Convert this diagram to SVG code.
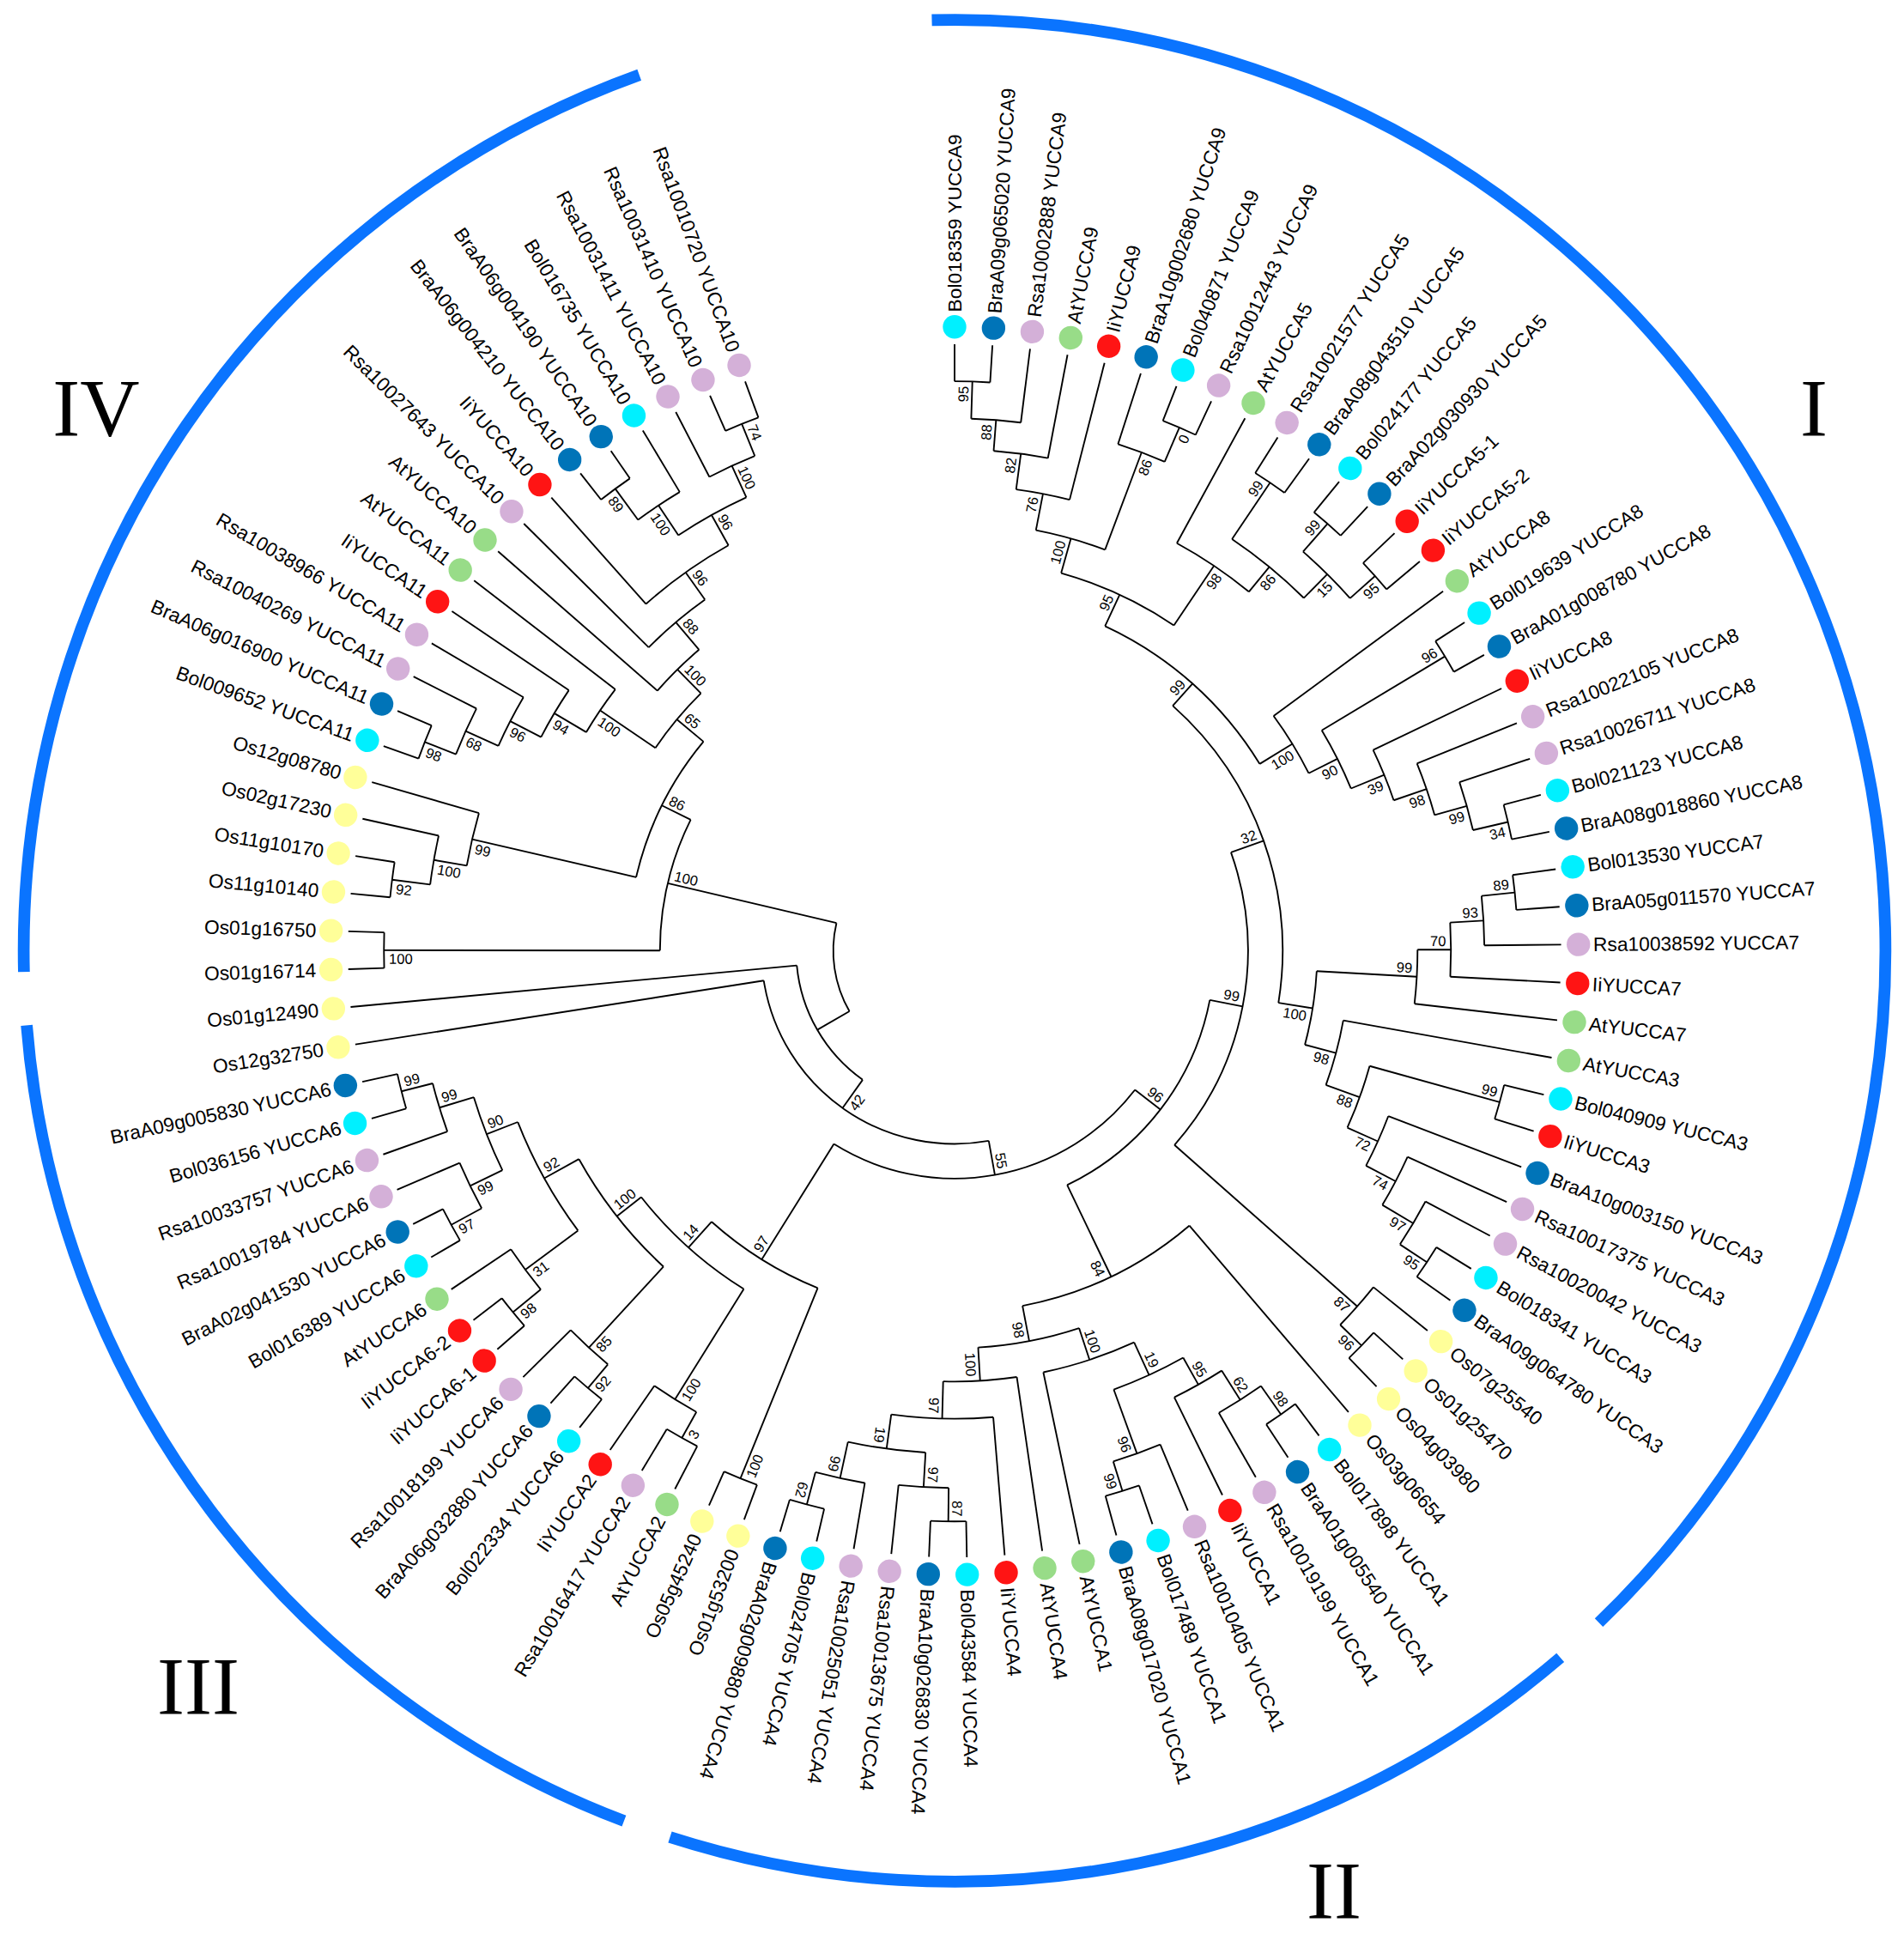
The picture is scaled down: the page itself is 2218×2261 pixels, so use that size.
<svg xmlns="http://www.w3.org/2000/svg" width="2218" height="2261" viewBox="0 0 2218 2261">
<style>
.br{fill:none;stroke:#000;stroke-width:1.3}
.ca{fill:none;stroke:#0A74FF;stroke-width:9.5}
.lf text{font-family:"Liberation Sans",Arial,sans-serif;font-size:15.8px;dominant-baseline:central;fill:#000}
.bs{font-family:"Liberation Sans",Arial,sans-serif;font-size:11.5px;fill:#000}
.e{text-anchor:end}
.c{fill:#00F0FF}.b{fill:#0074B8}.l{fill:#D4B0D8}.g{fill:#98DC88}.r{fill:#FF1414}.y{fill:#FFFF99}
.num{font-family:"Liberation Serif","Times New Roman",serif;font-size:96px;text-anchor:middle;fill:#000}
</style>
<rect width="2218" height="2261" fill="#fff"/>
<g transform="translate(1112 1107.5) scale(1.442)">
<g id="clade-arcs" class="ca">
<circle r="752" pathLength="360" stroke-dasharray="137.6 360" transform="rotate(-91.4)"/>
<circle r="752" pathLength="360" stroke-dasharray="58.4 360" transform="rotate(49.4)"/>
<circle r="752" pathLength="360" stroke-dasharray="64.6 360" transform="rotate(110.8)"/>
<circle r="752" pathLength="360" stroke-dasharray="71.5 360" transform="rotate(178.7)"/>
</g>
<g id="connectors" class="br">
<circle r="460" pathLength="360" stroke-dasharray="3.58 360" transform="rotate(-90)"/><path transform="rotate(0)" d="M0-460V-490"/><path transform="rotate(3.58)" d="M0-460V-490"/>
<circle r="430" pathLength="360" stroke-dasharray="5.36 360" transform="rotate(-88.21)"/><path transform="rotate(1.79)" d="M0-430V-460"/><path transform="rotate(7.15)" d="M0-430V-490"/>
<circle r="405" pathLength="360" stroke-dasharray="6.26 360" transform="rotate(-85.53)"/><path transform="rotate(4.47)" d="M0-405V-430"/><path transform="rotate(10.73)" d="M0-405V-490"/>
<circle r="376" pathLength="360" stroke-dasharray="6.71 360" transform="rotate(-82.4)"/><path transform="rotate(7.6)" d="M0-376V-405"/><path transform="rotate(14.31)" d="M0-376V-490"/>
<circle r="460" pathLength="360" stroke-dasharray="3.58 360" transform="rotate(-68.54)"/><path transform="rotate(21.46)" d="M0-460V-490"/><path transform="rotate(25.04)" d="M0-460V-490"/>
<circle r="430" pathLength="360" stroke-dasharray="5.37 360" transform="rotate(-72.12)"/><path transform="rotate(17.88)" d="M0-430V-490"/><path transform="rotate(23.25)" d="M0-430V-460"/>
<circle r="346" pathLength="360" stroke-dasharray="9.62 360" transform="rotate(-79.05)"/><path transform="rotate(10.95)" d="M0-346V-376"/><path transform="rotate(20.57)" d="M0-346V-430"/>
<circle r="456" pathLength="360" stroke-dasharray="3.58 360" transform="rotate(-57.81)"/><path transform="rotate(32.19)" d="M0-456V-490"/><path transform="rotate(35.77)" d="M0-456V-490"/>
<circle r="458" pathLength="360" stroke-dasharray="3.57 360" transform="rotate(-50.65)"/><path transform="rotate(39.35)" d="M0-458V-490"/><path transform="rotate(42.92)" d="M0-458V-490"/>
<circle r="455" pathLength="360" stroke-dasharray="3.58 360" transform="rotate(-43.5)"/><path transform="rotate(46.5)" d="M0-455V-490"/><path transform="rotate(50.08)" d="M0-455V-490"/>
<circle r="428" pathLength="360" stroke-dasharray="7.16 360" transform="rotate(-48.87)"/><path transform="rotate(41.13)" d="M0-428V-458"/><path transform="rotate(48.29)" d="M0-428V-455"/>
<circle r="401" pathLength="360" stroke-dasharray="10.73 360" transform="rotate(-56.02)"/><path transform="rotate(33.98)" d="M0-401V-456"/><path transform="rotate(44.71)" d="M0-401V-428"/>
<circle r="375" pathLength="360" stroke-dasharray="10.74 360" transform="rotate(-61.39)"/><path transform="rotate(28.61)" d="M0-375V-490"/><path transform="rotate(39.35)" d="M0-375V-401"/>
<circle r="317" pathLength="360" stroke-dasharray="18.22 360" transform="rotate(-74.24)"/><path transform="rotate(15.76)" d="M0-317V-346"/><path transform="rotate(33.98)" d="M0-317V-375"/>
<circle r="462" pathLength="360" stroke-dasharray="3.58 360" transform="rotate(-32.77)"/><path transform="rotate(57.23)" d="M0-462V-490"/><path transform="rotate(60.81)" d="M0-462V-490"/>
<circle r="459" pathLength="360" stroke-dasharray="3.58 360" transform="rotate(-14.89)"/><path transform="rotate(75.11)" d="M0-459V-490"/><path transform="rotate(78.69)" d="M0-459V-490"/>
<circle r="430" pathLength="360" stroke-dasharray="5.36 360" transform="rotate(-18.46)"/><path transform="rotate(71.54)" d="M0-430V-490"/><path transform="rotate(76.9)" d="M0-430V-459"/>
<circle r="403" pathLength="360" stroke-dasharray="6.26 360" transform="rotate(-22.04)"/><path transform="rotate(67.96)" d="M0-403V-490"/><path transform="rotate(74.22)" d="M0-403V-430"/>
<circle r="375" pathLength="360" stroke-dasharray="6.71 360" transform="rotate(-25.62)"/><path transform="rotate(64.38)" d="M0-375V-490"/><path transform="rotate(71.09)" d="M0-375V-403"/>
<circle r="346" pathLength="360" stroke-dasharray="8.72 360" transform="rotate(-30.98)"/><path transform="rotate(59.02)" d="M0-346V-462"/><path transform="rotate(67.74)" d="M0-346V-375"/>
<circle r="320" pathLength="360" stroke-dasharray="9.73 360" transform="rotate(-36.35)"/><path transform="rotate(53.65)" d="M0-320V-490"/><path transform="rotate(63.38)" d="M0-320V-346"/>
<circle r="289" pathLength="360" stroke-dasharray="33.65 360" transform="rotate(-65.13)"/><path transform="rotate(24.87)" d="M0-289V-317"/><path transform="rotate(58.52)" d="M0-289V-320"/>
<circle r="455" pathLength="360" stroke-dasharray="3.57 360" transform="rotate(-7.73)"/><path transform="rotate(82.27)" d="M0-455V-490"/><path transform="rotate(85.84)" d="M0-455V-490"/>
<circle r="428" pathLength="360" stroke-dasharray="5.36 360" transform="rotate(-5.94)"/><path transform="rotate(84.06)" d="M0-428V-455"/><path transform="rotate(89.42)" d="M0-428V-490"/>
<circle r="401" pathLength="360" stroke-dasharray="6.26 360" transform="rotate(-3.26)"/><path transform="rotate(86.74)" d="M0-401V-428"/><path transform="rotate(93)" d="M0-401V-490"/>
<circle r="374" pathLength="360" stroke-dasharray="6.7 360" transform="rotate(-0.13)"/><path transform="rotate(89.87)" d="M0-374V-401"/><path transform="rotate(96.57)" d="M0-374V-490"/>
<circle r="457" pathLength="360" stroke-dasharray="3.57 360" transform="rotate(13.73)"/><path transform="rotate(103.73)" d="M0-457V-490"/><path transform="rotate(107.3)" d="M0-457V-490"/>
<circle r="457" pathLength="360" stroke-dasharray="3.58 360" transform="rotate(31.61)"/><path transform="rotate(121.61)" d="M0-457V-490"/><path transform="rotate(125.19)" d="M0-457V-490"/>
<circle r="431" pathLength="360" stroke-dasharray="5.37 360" transform="rotate(28.03)"/><path transform="rotate(118.03)" d="M0-431V-490"/><path transform="rotate(123.4)" d="M0-431V-457"/>
<circle r="402" pathLength="360" stroke-dasharray="6.26 360" transform="rotate(24.46)"/><path transform="rotate(114.46)" d="M0-402V-490"/><path transform="rotate(120.72)" d="M0-402V-431"/>
<circle r="375" pathLength="360" stroke-dasharray="6.71 360" transform="rotate(20.88)"/><path transform="rotate(110.88)" d="M0-375V-490"/><path transform="rotate(117.59)" d="M0-375V-402"/>
<circle r="348" pathLength="360" stroke-dasharray="8.72 360" transform="rotate(15.52)"/><path transform="rotate(105.52)" d="M0-348V-457"/><path transform="rotate(114.24)" d="M0-348V-375"/>
<circle r="319" pathLength="360" stroke-dasharray="9.73 360" transform="rotate(10.15)"/><path transform="rotate(100.15)" d="M0-319V-490"/><path transform="rotate(109.88)" d="M0-319V-348"/>
<circle r="293" pathLength="360" stroke-dasharray="11.8 360" transform="rotate(3.22)"/><path transform="rotate(93.22)" d="M0-293V-374"/><path transform="rotate(105.02)" d="M0-293V-319"/>
<circle r="265" pathLength="360" stroke-dasharray="57.43 360" transform="rotate(-48.31)"/><path transform="rotate(41.69)" d="M0-265V-289"/><path transform="rotate(99.12)" d="M0-265V-293"/>
<circle r="458" pathLength="360" stroke-dasharray="3.58 360" transform="rotate(42.34)"/><path transform="rotate(132.34)" d="M0-458V-490"/><path transform="rotate(135.92)" d="M0-458V-490"/>
<circle r="434" pathLength="360" stroke-dasharray="5.36 360" transform="rotate(38.77)"/><path transform="rotate(128.77)" d="M0-434V-490"/><path transform="rotate(134.13)" d="M0-434V-458"/>
<circle r="237" pathLength="360" stroke-dasharray="61.04 360" transform="rotate(-19.59)"/><path transform="rotate(70.41)" d="M0-237V-265"/><path transform="rotate(131.45)" d="M0-237V-434"/>
<circle r="458" pathLength="360" stroke-dasharray="3.58 360" transform="rotate(53.07)"/><path transform="rotate(143.07)" d="M0-458V-490"/><path transform="rotate(146.65)" d="M0-458V-490"/>
<circle r="430" pathLength="360" stroke-dasharray="5.37 360" transform="rotate(54.86)"/><path transform="rotate(144.86)" d="M0-430V-458"/><path transform="rotate(150.23)" d="M0-430V-490"/>
<circle r="402" pathLength="360" stroke-dasharray="6.26 360" transform="rotate(57.54)"/><path transform="rotate(147.54)" d="M0-402V-430"/><path transform="rotate(153.8)" d="M0-402V-490"/>
<circle r="457" pathLength="360" stroke-dasharray="3.57 360" transform="rotate(70.96)"/><path transform="rotate(160.96)" d="M0-457V-490"/><path transform="rotate(164.53)" d="M0-457V-490"/>
<circle r="432" pathLength="360" stroke-dasharray="5.36 360" transform="rotate(67.38)"/><path transform="rotate(157.38)" d="M0-432V-490"/><path transform="rotate(162.74)" d="M0-432V-457"/>
<circle r="377" pathLength="360" stroke-dasharray="9.39 360" transform="rotate(60.67)"/><path transform="rotate(150.67)" d="M0-377V-402"/><path transform="rotate(160.06)" d="M0-377V-432"/>
<circle r="348" pathLength="360" stroke-dasharray="12.74 360" transform="rotate(65.37)"/><path transform="rotate(155.37)" d="M0-348V-377"/><path transform="rotate(168.11)" d="M0-348V-490"/>
<circle r="461" pathLength="360" stroke-dasharray="3.58 360" transform="rotate(88.84)"/><path transform="rotate(178.84)" d="M0-461V-490"/><path transform="rotate(182.42)" d="M0-461V-490"/>
<circle r="434" pathLength="360" stroke-dasharray="5.36 360" transform="rotate(90.63)"/><path transform="rotate(180.63)" d="M0-434V-461"/><path transform="rotate(185.99)" d="M0-434V-490"/>
<circle r="463" pathLength="360" stroke-dasharray="3.57 360" transform="rotate(103.15)"/><path transform="rotate(193.15)" d="M0-463V-490"/><path transform="rotate(196.72)" d="M0-463V-490"/>
<circle r="436" pathLength="360" stroke-dasharray="5.37 360" transform="rotate(99.57)"/><path transform="rotate(189.57)" d="M0-436V-490"/><path transform="rotate(194.94)" d="M0-436V-463"/>
<circle r="406" pathLength="360" stroke-dasharray="8.94 360" transform="rotate(93.31)"/><path transform="rotate(183.31)" d="M0-406V-434"/><path transform="rotate(192.25)" d="M0-406V-436"/>
<circle r="378" pathLength="360" stroke-dasharray="12.52 360" transform="rotate(85.26)"/><path transform="rotate(175.26)" d="M0-378V-490"/><path transform="rotate(187.78)" d="M0-378V-406"/>
<circle r="348" pathLength="360" stroke-dasharray="9.83 360" transform="rotate(81.69)"/><path transform="rotate(171.69)" d="M0-348V-490"/><path transform="rotate(181.52)" d="M0-348V-378"/>
<circle r="321" pathLength="360" stroke-dasharray="14.86 360" transform="rotate(71.74)"/><path transform="rotate(161.74)" d="M0-321V-348"/><path transform="rotate(176.6)" d="M0-321V-348"/>
<circle r="292" pathLength="360" stroke-dasharray="29.67 360" transform="rotate(49.5)"/><path transform="rotate(139.5)" d="M0-292V-490"/><path transform="rotate(169.17)" d="M0-292V-321"/>
<circle r="210" pathLength="360" stroke-dasharray="53.4 360" transform="rotate(10.93)"/><path transform="rotate(100.93)" d="M0-210V-237"/><path transform="rotate(154.33)" d="M0-210V-292"/>
<circle r="460" pathLength="360" stroke-dasharray="3.58 360" transform="rotate(110.3)"/><path transform="rotate(200.3)" d="M0-460V-490"/><path transform="rotate(203.88)" d="M0-460V-490"/>
<circle r="451" pathLength="360" stroke-dasharray="3.58 360" transform="rotate(117.45)"/><path transform="rotate(207.45)" d="M0-451V-490"/><path transform="rotate(211.03)" d="M0-451V-490"/>
<circle r="427" pathLength="360" stroke-dasharray="5.37 360" transform="rotate(119.24)"/><path transform="rotate(209.24)" d="M0-427V-451"/><path transform="rotate(214.61)" d="M0-427V-490"/>
<circle r="461" pathLength="360" stroke-dasharray="3.57 360" transform="rotate(128.19)"/><path transform="rotate(218.19)" d="M0-461V-490"/><path transform="rotate(221.76)" d="M0-461V-490"/>
<circle r="436" pathLength="360" stroke-dasharray="5.37 360" transform="rotate(129.97)"/><path transform="rotate(219.97)" d="M0-436V-461"/><path transform="rotate(225.34)" d="M0-436V-490"/>
<circle r="461" pathLength="360" stroke-dasharray="3.57 360" transform="rotate(138.92)"/><path transform="rotate(228.92)" d="M0-461V-490"/><path transform="rotate(232.49)" d="M0-461V-490"/>
<circle r="432" pathLength="360" stroke-dasharray="5.37 360" transform="rotate(140.7)"/><path transform="rotate(230.7)" d="M0-432V-461"/><path transform="rotate(236.07)" d="M0-432V-490"/>
<circle r="463" pathLength="360" stroke-dasharray="3.57 360" transform="rotate(149.65)"/><path transform="rotate(239.65)" d="M0-463V-490"/><path transform="rotate(243.22)" d="M0-463V-490"/>
<circle r="435" pathLength="360" stroke-dasharray="5.37 360" transform="rotate(151.43)"/><path transform="rotate(241.43)" d="M0-435V-463"/><path transform="rotate(246.8)" d="M0-435V-490"/>
<circle r="461" pathLength="360" stroke-dasharray="3.58 360" transform="rotate(163.95)"/><path transform="rotate(253.95)" d="M0-461V-490"/><path transform="rotate(257.53)" d="M0-461V-490"/>
<circle r="435" pathLength="360" stroke-dasharray="5.36 360" transform="rotate(160.38)"/><path transform="rotate(250.38)" d="M0-435V-490"/><path transform="rotate(255.74)" d="M0-435V-461"/>
<circle r="406" pathLength="360" stroke-dasharray="8.94 360" transform="rotate(154.12)"/><path transform="rotate(244.12)" d="M0-406V-435"/><path transform="rotate(253.06)" d="M0-406V-435"/>
<circle r="379" pathLength="360" stroke-dasharray="15.2 360" transform="rotate(143.39)"/><path transform="rotate(233.39)" d="M0-379V-432"/><path transform="rotate(248.59)" d="M0-379V-406"/>
<circle r="347" pathLength="360" stroke-dasharray="18.33 360" transform="rotate(132.66)"/><path transform="rotate(222.66)" d="M0-347V-436"/><path transform="rotate(240.99)" d="M0-347V-379"/>
<circle r="322" pathLength="360" stroke-dasharray="19.9 360" transform="rotate(121.93)"/><path transform="rotate(211.93)" d="M0-322V-427"/><path transform="rotate(231.83)" d="M0-322V-347"/>
<circle r="294" pathLength="360" stroke-dasharray="19.79 360" transform="rotate(112.09)"/><path transform="rotate(202.09)" d="M0-294V-460"/><path transform="rotate(221.88)" d="M0-294V-322"/>
<circle r="184" pathLength="360" stroke-dasharray="84.36 360" transform="rotate(37.63)"/><path transform="rotate(127.63)" d="M0-184V-210"/><path transform="rotate(211.99)" d="M0-184V-294"/>
<circle r="156" pathLength="360" stroke-dasharray="91.3 360" transform="rotate(79.81)"/><path transform="rotate(169.81)" d="M0-156V-184"/><path transform="rotate(261.11)" d="M0-156V-490"/>
<circle r="128" pathLength="360" stroke-dasharray="49.22 360" transform="rotate(125.46)"/><path transform="rotate(215.46)" d="M0-128V-156"/><path transform="rotate(264.68)" d="M0-128V-490"/>
<circle r="461" pathLength="360" stroke-dasharray="3.58 360" transform="rotate(178.26)"/><path transform="rotate(268.26)" d="M0-461V-490"/><path transform="rotate(271.84)" d="M0-461V-490"/>
<circle r="458" pathLength="360" stroke-dasharray="3.58 360" transform="rotate(185.41)"/><path transform="rotate(275.41)" d="M0-458V-490"/><path transform="rotate(278.99)" d="M0-458V-490"/>
<circle r="427" pathLength="360" stroke-dasharray="5.37 360" transform="rotate(187.2)"/><path transform="rotate(277.2)" d="M0-427V-458"/><path transform="rotate(282.57)" d="M0-427V-490"/>
<circle r="400" pathLength="360" stroke-dasharray="6.25 360" transform="rotate(189.89)"/><path transform="rotate(279.89)" d="M0-400V-427"/><path transform="rotate(286.14)" d="M0-400V-490"/>
<circle r="460" pathLength="360" stroke-dasharray="3.58 360" transform="rotate(199.72)"/><path transform="rotate(289.72)" d="M0-460V-490"/><path transform="rotate(293.3)" d="M0-460V-490"/>
<circle r="433" pathLength="360" stroke-dasharray="5.36 360" transform="rotate(201.51)"/><path transform="rotate(291.51)" d="M0-433V-460"/><path transform="rotate(296.87)" d="M0-433V-490"/>
<circle r="404" pathLength="360" stroke-dasharray="6.26 360" transform="rotate(204.19)"/><path transform="rotate(294.19)" d="M0-404V-433"/><path transform="rotate(300.45)" d="M0-404V-490"/>
<circle r="376" pathLength="360" stroke-dasharray="6.71 360" transform="rotate(207.32)"/><path transform="rotate(297.32)" d="M0-376V-404"/><path transform="rotate(304.03)" d="M0-376V-490"/>
<circle r="346" pathLength="360" stroke-dasharray="6.93 360" transform="rotate(210.68)"/><path transform="rotate(300.68)" d="M0-346V-376"/><path transform="rotate(307.61)" d="M0-346V-490"/>
<circle r="463" pathLength="360" stroke-dasharray="3.58 360" transform="rotate(231.91)"/><path transform="rotate(321.91)" d="M0-463V-490"/><path transform="rotate(325.49)" d="M0-463V-490"/>
<circle r="432" pathLength="360" stroke-dasharray="5.37 360" transform="rotate(233.7)"/><path transform="rotate(323.7)" d="M0-432V-463"/><path transform="rotate(329.07)" d="M0-432V-490"/>
<circle r="459" pathLength="360" stroke-dasharray="3.58 360" transform="rotate(246.22)"/><path transform="rotate(336.22)" d="M0-459V-490"/><path transform="rotate(339.8)" d="M0-459V-490"/>
<circle r="431" pathLength="360" stroke-dasharray="5.37 360" transform="rotate(242.64)"/><path transform="rotate(332.64)" d="M0-431V-490"/><path transform="rotate(338.01)" d="M0-431V-459"/>
<circle r="403" pathLength="360" stroke-dasharray="8.95 360" transform="rotate(236.38)"/><path transform="rotate(326.38)" d="M0-403V-432"/><path transform="rotate(335.33)" d="M0-403V-431"/>
<circle r="375" pathLength="360" stroke-dasharray="12.51 360" transform="rotate(228.34)"/><path transform="rotate(318.34)" d="M0-375V-490"/><path transform="rotate(330.85)" d="M0-375V-403"/>
<circle r="348" pathLength="360" stroke-dasharray="9.83 360" transform="rotate(224.76)"/><path transform="rotate(314.76)" d="M0-348V-490"/><path transform="rotate(324.59)" d="M0-348V-375"/>
<circle r="319" pathLength="360" stroke-dasharray="8.5 360" transform="rotate(221.18)"/><path transform="rotate(311.18)" d="M0-319V-490"/><path transform="rotate(319.68)" d="M0-319V-348"/>
<circle r="292" pathLength="360" stroke-dasharray="11.29 360" transform="rotate(214.14)"/><path transform="rotate(304.14)" d="M0-292V-346"/><path transform="rotate(315.43)" d="M0-292V-319"/>
<circle r="264" pathLength="360" stroke-dasharray="26.78 360" transform="rotate(193.01)"/><path transform="rotate(283.01)" d="M0-264V-400"/><path transform="rotate(309.79)" d="M0-264V-292"/>
<circle r="238" pathLength="360" stroke-dasharray="26.35 360" transform="rotate(180.05)"/><path transform="rotate(270.05)" d="M0-238V-461"/><path transform="rotate(296.4)" d="M0-238V-264"/>
<circle r="98" pathLength="360" stroke-dasharray="43.16 360" transform="rotate(150.07)"/><path transform="rotate(240.07)" d="M0-98V-128"/><path transform="rotate(283.23)" d="M0-98V-238"/>
</g>
<g id="bootstrap" class="bs">
<text class="e" transform="rotate(-88.21)" x="456" y="-3">95</text>
<text class="e" transform="rotate(-85.53)" x="426" y="-3">88</text>
<text class="e" transform="rotate(-82.4)" x="401" y="-3">82</text>
<text class="e" transform="rotate(-79.05)" x="372" y="-3">76</text>
<text class="e" transform="rotate(-66.75)" x="456" y="11">0</text>
<text class="e" transform="rotate(-69.43)" x="426" y="11">86</text>
<text class="e" transform="rotate(-74.24)" x="342" y="-3">100</text>
<text class="e" transform="rotate(-56.02)" x="452" y="-3">99</text>
<text class="e" transform="rotate(-48.87)" x="454" y="-3">99</text>
<text class="e" transform="rotate(-41.71)" x="451" y="11">95</text>
<text class="e" transform="rotate(-45.29)" x="424" y="11">15</text>
<text class="e" transform="rotate(-50.65)" x="397" y="11">86</text>
<text class="e" transform="rotate(-56.02)" x="371" y="11">98</text>
<text class="e" transform="rotate(-65.13)" x="313" y="-3">95</text>
<text class="e" transform="rotate(-30.98)" x="458" y="-3">96</text>
<text class="e" transform="rotate(-13.1)" x="455" y="11">34</text>
<text class="e" transform="rotate(-15.78)" x="426" y="11">99</text>
<text class="e" transform="rotate(-18.91)" x="399" y="11">98</text>
<text class="e" transform="rotate(-22.26)" x="371" y="11">39</text>
<text class="e" transform="rotate(-26.62)" x="342" y="11">90</text>
<text class="e" transform="rotate(-31.48)" x="316" y="11">100</text>
<text class="e" transform="rotate(-48.31)" x="285" y="-3">99</text>
<text class="e" transform="rotate(-5.94)" x="451" y="-3">89</text>
<text class="e" transform="rotate(-3.26)" x="424" y="-3">93</text>
<text class="e" transform="rotate(-0.13)" x="397" y="-3">70</text>
<text class="e" transform="rotate(3.22)" x="370" y="-3">99</text>
<text class="e" transform="rotate(15.52)" x="453" y="-3">99</text>
<text class="e" transform="rotate(33.4)" x="453" y="11">95</text>
<text class="e" transform="rotate(30.72)" x="427" y="11">97</text>
<text class="e" transform="rotate(27.59)" x="398" y="11">74</text>
<text class="e" transform="rotate(24.24)" x="371" y="11">72</text>
<text class="e" transform="rotate(19.88)" x="344" y="11">88</text>
<text class="e" transform="rotate(15.02)" x="315" y="11">98</text>
<text class="e" transform="rotate(9.12)" x="289" y="11">100</text>
<text class="e" transform="rotate(-19.59)" x="261" y="-3">32</text>
<text class="e" transform="rotate(44.13)" x="454" y="11">96</text>
<text class="e" transform="rotate(41.45)" x="430" y="11">87</text>
<text class="e" transform="rotate(10.93)" x="233" y="-3">99</text>
<text class="e" transform="rotate(54.86)" x="454" y="-3">98</text>
<text class="e" transform="rotate(57.54)" x="426" y="-3">62</text>
<text class="e" transform="rotate(60.67)" x="398" y="-3">95</text>
<text class="e" transform="rotate(72.74)" x="453" y="11">99</text>
<text class="e" transform="rotate(70.06)" x="428" y="11">96</text>
<text class="e" transform="rotate(65.37)" x="373" y="-3">19</text>
<text class="e" transform="rotate(71.74)" x="344" y="-3">100</text>
<text class="e" transform="rotate(90.63)" x="457" y="-3">87</text>
<text class="e" transform="rotate(93.31)" x="430" y="-3">97</text>
<text class="e" transform="rotate(104.94)" x="459" y="11">62</text>
<text class="e" transform="rotate(102.25)" x="432" y="11">99</text>
<text class="e" transform="rotate(97.78)" x="402" y="11">19</text>
<text class="e" transform="rotate(91.52)" x="374" y="11">97</text>
<text class="e" transform="rotate(86.6)" x="344" y="11">100</text>
<text class="e" transform="rotate(79.17)" x="317" y="11">98</text>
<text class="e" transform="rotate(64.33)" x="288" y="11">84</text>
<text class="e" transform="rotate(37.63)" x="206" y="-3">96</text>
<text class="e" transform="rotate(79.81)" x="180" y="-3">55</text>
<text transform="rotate(292.09)" x="-456" y="11">100</text>
<text transform="rotate(299.24)" x="-447" y="11">3</text>
<text transform="rotate(301.93)" x="-423" y="11">100</text>
<text transform="rotate(309.97)" x="-457" y="11">92</text>
<text transform="rotate(312.66)" x="-432" y="11">85</text>
<text transform="rotate(320.7)" x="-457" y="11">98</text>
<text transform="rotate(323.39)" x="-428" y="11">31</text>
<text transform="rotate(331.43)" x="-459" y="11">97</text>
<text transform="rotate(334.12)" x="-431" y="11">99</text>
<text transform="rotate(345.74)" x="-457" y="-3">99</text>
<text transform="rotate(343.06)" x="-431" y="-3">99</text>
<text transform="rotate(338.59)" x="-402" y="-3">90</text>
<text transform="rotate(330.99)" x="-375" y="-3">92</text>
<text transform="rotate(321.83)" x="-343" y="-3">100</text>
<text transform="rotate(311.88)" x="-318" y="-3">14</text>
<text transform="rotate(301.99)" x="-290" y="-3">97</text>
<text transform="rotate(305.46)" x="-152" y="11">42</text>
<text transform="rotate(360.05)" x="-457" y="11">100</text>
<text transform="rotate(367.2)" x="-454" y="11">92</text>
<text transform="rotate(369.89)" x="-423" y="11">100</text>
<text transform="rotate(373.01)" x="-396" y="11">99</text>
<text transform="rotate(381.51)" x="-456" y="11">98</text>
<text transform="rotate(384.19)" x="-429" y="11">68</text>
<text transform="rotate(387.32)" x="-400" y="11">96</text>
<text transform="rotate(390.68)" x="-372" y="11">94</text>
<text transform="rotate(394.14)" x="-342" y="11">100</text>
<text transform="rotate(413.7)" x="-459" y="11">89</text>
<text transform="rotate(416.38)" x="-428" y="11">100</text>
<text transform="rotate(428.01)" x="-455" y="-3">74</text>
<text transform="rotate(425.33)" x="-427" y="-3">100</text>
<text transform="rotate(420.85)" x="-399" y="-3">96</text>
<text transform="rotate(414.59)" x="-371" y="-3">96</text>
<text transform="rotate(409.68)" x="-344" y="-3">88</text>
<text transform="rotate(405.43)" x="-315" y="-3">100</text>
<text transform="rotate(399.79)" x="-288" y="-3">65</text>
<text transform="rotate(386.4)" x="-260" y="-3">86</text>
<text transform="rotate(373.23)" x="-234" y="-3">100</text>
</g>
<g id="leaves" class="lf">
<g id="n1" transform="rotate(-90)"><circle cx="504" r="9.5" class="c"/><text x="516">Bol018359 YUCCA9</text></g>
<g id="n2" transform="rotate(-86.42)"><circle cx="504" r="9.5" class="b"/><text x="516">BraA09g065020 YUCCA9</text></g>
<g id="n3" transform="rotate(-82.85)"><circle cx="504" r="9.5" class="l"/><text x="516">Rsa10002888 YUCCA9</text></g>
<g id="n4" transform="rotate(-79.27)"><circle cx="504" r="9.5" class="g"/><text x="516">AtYUCCA9</text></g>
<g id="n5" transform="rotate(-75.69)"><circle cx="504" r="9.5" class="r"/><text x="516">IiYUCCA9</text></g>
<g id="n6" transform="rotate(-72.12)"><circle cx="504" r="9.5" class="b"/><text x="516">BraA10g002680 YUCCA9</text></g>
<g id="n7" transform="rotate(-68.54)"><circle cx="504" r="9.5" class="c"/><text x="516">Bol040871 YUCCA9</text></g>
<g id="n8" transform="rotate(-64.96)"><circle cx="504" r="9.5" class="l"/><text x="516">Rsa10012443 YUCCA9</text></g>
<g id="n9" transform="rotate(-61.39)"><circle cx="504" r="9.5" class="g"/><text x="516">AtYUCCA5</text></g>
<g id="n10" transform="rotate(-57.81)"><circle cx="504" r="9.5" class="l"/><text x="516">Rsa10021577 YUCCA5</text></g>
<g id="n11" transform="rotate(-54.23)"><circle cx="504" r="9.5" class="b"/><text x="516">BraA08g043510 YUCCA5</text></g>
<g id="n12" transform="rotate(-50.65)"><circle cx="504" r="9.5" class="c"/><text x="516">Bol024177 YUCCA5</text></g>
<g id="n13" transform="rotate(-47.08)"><circle cx="504" r="9.5" class="b"/><text x="516">BraA02g030930 YUCCA5</text></g>
<g id="n14" transform="rotate(-43.5)"><circle cx="504" r="9.5" class="r"/><text x="516">IiYUCCA5-1</text></g>
<g id="n15" transform="rotate(-39.92)"><circle cx="504" r="9.5" class="r"/><text x="516">IiYUCCA5-2</text></g>
<g id="n16" transform="rotate(-36.35)"><circle cx="504" r="9.5" class="g"/><text x="516">AtYUCCA8</text></g>
<g id="n17" transform="rotate(-32.77)"><circle cx="504" r="9.5" class="c"/><text x="516">Bol019639 YUCCA8</text></g>
<g id="n18" transform="rotate(-29.19)"><circle cx="504" r="9.5" class="b"/><text x="516">BraA01g008780 YUCCA8</text></g>
<g id="n19" transform="rotate(-25.62)"><circle cx="504" r="9.5" class="r"/><text x="516">IiYUCCA8</text></g>
<g id="n20" transform="rotate(-22.04)"><circle cx="504" r="9.5" class="l"/><text x="516">Rsa10022105 YUCCA8</text></g>
<g id="n21" transform="rotate(-18.46)"><circle cx="504" r="9.5" class="l"/><text x="516">Rsa10026711 YUCCA8</text></g>
<g id="n22" transform="rotate(-14.89)"><circle cx="504" r="9.5" class="c"/><text x="516">Bol021123 YUCCA8</text></g>
<g id="n23" transform="rotate(-11.31)"><circle cx="504" r="9.5" class="b"/><text x="516">BraA08g018860 YUCCA8</text></g>
<g id="n24" transform="rotate(-7.73)"><circle cx="504" r="9.5" class="c"/><text x="516">Bol013530 YUCCA7</text></g>
<g id="n25" transform="rotate(-4.16)"><circle cx="504" r="9.5" class="b"/><text x="516">BraA05g011570 YUCCA7</text></g>
<g id="n26" transform="rotate(-0.58)"><circle cx="504" r="9.5" class="l"/><text x="516">Rsa10038592 YUCCA7</text></g>
<g id="n27" transform="rotate(3)"><circle cx="504" r="9.5" class="r"/><text x="516">IiYUCCA7</text></g>
<g id="n28" transform="rotate(6.57)"><circle cx="504" r="9.5" class="g"/><text x="516">AtYUCCA7</text></g>
<g id="n29" transform="rotate(10.15)"><circle cx="504" r="9.5" class="g"/><text x="516">AtYUCCA3</text></g>
<g id="n30" transform="rotate(13.73)"><circle cx="504" r="9.5" class="c"/><text x="516">Bol040909 YUCCA3</text></g>
<g id="n31" transform="rotate(17.3)"><circle cx="504" r="9.5" class="r"/><text x="516">IiYUCCA3</text></g>
<g id="n32" transform="rotate(20.88)"><circle cx="504" r="9.5" class="b"/><text x="516">BraA10g003150 YUCCA3</text></g>
<g id="n33" transform="rotate(24.46)"><circle cx="504" r="9.5" class="l"/><text x="516">Rsa10017375 YUCCA3</text></g>
<g id="n34" transform="rotate(28.03)"><circle cx="504" r="9.5" class="l"/><text x="516">Rsa10020042 YUCCA3</text></g>
<g id="n35" transform="rotate(31.61)"><circle cx="504" r="9.5" class="c"/><text x="516">Bol018341 YUCCA3</text></g>
<g id="n36" transform="rotate(35.19)"><circle cx="504" r="9.5" class="b"/><text x="516">BraA09g064780 YUCCA3</text></g>
<g id="n37" transform="rotate(38.77)"><circle cx="504" r="9.5" class="y"/><text x="516">Os07g25540</text></g>
<g id="n38" transform="rotate(42.34)"><circle cx="504" r="9.5" class="y"/><text x="516">Os01g25470</text></g>
<g id="n39" transform="rotate(45.92)"><circle cx="504" r="9.5" class="y"/><text x="516">Os04g03980</text></g>
<g id="n40" transform="rotate(49.5)"><circle cx="504" r="9.5" class="y"/><text x="516">Os03g06654</text></g>
<g id="n41" transform="rotate(53.07)"><circle cx="504" r="9.5" class="c"/><text x="516">Bol017898 YUCCA1</text></g>
<g id="n42" transform="rotate(56.65)"><circle cx="504" r="9.5" class="b"/><text x="516">BraA01g005540 YUCCA1</text></g>
<g id="n43" transform="rotate(60.23)"><circle cx="504" r="9.5" class="l"/><text x="516">Rsa10019199 YUCCA1</text></g>
<g id="n44" transform="rotate(63.8)"><circle cx="504" r="9.5" class="r"/><text x="516">IiYUCCA1</text></g>
<g id="n45" transform="rotate(67.38)"><circle cx="504" r="9.5" class="l"/><text x="516">Rsa10010405 YUCCA1</text></g>
<g id="n46" transform="rotate(70.96)"><circle cx="504" r="9.5" class="c"/><text x="516">Bol017489 YUCCA1</text></g>
<g id="n47" transform="rotate(74.53)"><circle cx="504" r="9.5" class="b"/><text x="516">BraA08g017020 YUCCA1</text></g>
<g id="n48" transform="rotate(78.11)"><circle cx="504" r="9.5" class="g"/><text x="516">AtYUCCA1</text></g>
<g id="n49" transform="rotate(81.69)"><circle cx="504" r="9.5" class="g"/><text x="516">AtYUCCA4</text></g>
<g id="n50" transform="rotate(85.26)"><circle cx="504" r="9.5" class="r"/><text x="516">IiYUCCA4</text></g>
<g id="n51" transform="rotate(88.84)"><circle cx="504" r="9.5" class="c"/><text x="516">Bol043584 YUCCA4</text></g>
<g id="n52" transform="rotate(92.42)"><circle cx="504" r="9.5" class="b"/><text x="516">BraA10g026830 YUCCA4</text></g>
<g id="n53" transform="rotate(95.99)"><circle cx="504" r="9.5" class="l"/><text x="516">Rsa10013675 YUCCA4</text></g>
<g id="n54" transform="rotate(99.57)"><circle cx="504" r="9.5" class="l"/><text x="516">Rsa10025051 YUCCA4</text></g>
<g id="n55" transform="rotate(103.15)"><circle cx="504" r="9.5" class="c"/><text x="516">Bol024705 YUCCA4</text></g>
<g id="n56" transform="rotate(106.72)"><circle cx="504" r="9.5" class="b"/><text x="516">BraA02g009880 YUCCA4</text></g>
<g id="n57" transform="rotate(290.3)"><circle cx="-504" r="9.5" class="y"/><text x="-516" class="e">Os01g53200</text></g>
<g id="n58" transform="rotate(293.88)"><circle cx="-504" r="9.5" class="y"/><text x="-516" class="e">Os05g45240</text></g>
<g id="n59" transform="rotate(297.45)"><circle cx="-504" r="9.5" class="g"/><text x="-516" class="e">AtYUCCA2</text></g>
<g id="n60" transform="rotate(301.03)"><circle cx="-504" r="9.5" class="l"/><text x="-516" class="e">Rsa10016417 YUCCA2</text></g>
<g id="n61" transform="rotate(304.61)"><circle cx="-504" r="9.5" class="r"/><text x="-516" class="e">IiYUCCA2</text></g>
<g id="n62" transform="rotate(308.19)"><circle cx="-504" r="9.5" class="c"/><text x="-516" class="e">Bol022334 YUCCA6</text></g>
<g id="n63" transform="rotate(311.76)"><circle cx="-504" r="9.5" class="b"/><text x="-516" class="e">BraA06g032880 YUCCA6</text></g>
<g id="n64" transform="rotate(315.34)"><circle cx="-504" r="9.5" class="l"/><text x="-516" class="e">Rsa10018199 YUCCA6</text></g>
<g id="n65" transform="rotate(318.92)"><circle cx="-504" r="9.5" class="r"/><text x="-516" class="e">IiYUCCA6-1</text></g>
<g id="n66" transform="rotate(322.49)"><circle cx="-504" r="9.5" class="r"/><text x="-516" class="e">IiYUCCA6-2</text></g>
<g id="n67" transform="rotate(326.07)"><circle cx="-504" r="9.5" class="g"/><text x="-516" class="e">AtYUCCA6</text></g>
<g id="n68" transform="rotate(329.65)"><circle cx="-504" r="9.5" class="c"/><text x="-516" class="e">Bol016389 YUCCA6</text></g>
<g id="n69" transform="rotate(333.22)"><circle cx="-504" r="9.5" class="b"/><text x="-516" class="e">BraA02g041530 YUCCA6</text></g>
<g id="n70" transform="rotate(336.8)"><circle cx="-504" r="9.5" class="l"/><text x="-516" class="e">Rsa10019784 YUCCA6</text></g>
<g id="n71" transform="rotate(340.38)"><circle cx="-504" r="9.5" class="l"/><text x="-516" class="e">Rsa10033757 YUCCA6</text></g>
<g id="n72" transform="rotate(343.95)"><circle cx="-504" r="9.5" class="c"/><text x="-516" class="e">Bol036156 YUCCA6</text></g>
<g id="n73" transform="rotate(347.53)"><circle cx="-504" r="9.5" class="b"/><text x="-516" class="e">BraA09g005830 YUCCA6</text></g>
<g id="n74" transform="rotate(351.11)"><circle cx="-504" r="9.5" class="y"/><text x="-516" class="e">Os12g32750</text></g>
<g id="n75" transform="rotate(354.68)"><circle cx="-504" r="9.5" class="y"/><text x="-516" class="e">Os01g12490</text></g>
<g id="n76" transform="rotate(358.26)"><circle cx="-504" r="9.5" class="y"/><text x="-516" class="e">Os01g16714</text></g>
<g id="n77" transform="rotate(361.84)"><circle cx="-504" r="9.5" class="y"/><text x="-516" class="e">Os01g16750</text></g>
<g id="n78" transform="rotate(365.41)"><circle cx="-504" r="9.5" class="y"/><text x="-516" class="e">Os11g10140</text></g>
<g id="n79" transform="rotate(368.99)"><circle cx="-504" r="9.5" class="y"/><text x="-516" class="e">Os11g10170</text></g>
<g id="n80" transform="rotate(372.57)"><circle cx="-504" r="9.5" class="y"/><text x="-516" class="e">Os02g17230</text></g>
<g id="n81" transform="rotate(376.14)"><circle cx="-504" r="9.5" class="y"/><text x="-516" class="e">Os12g08780</text></g>
<g id="n82" transform="rotate(379.72)"><circle cx="-504" r="9.5" class="c"/><text x="-516" class="e">Bol009652 YUCCA11</text></g>
<g id="n83" transform="rotate(383.3)"><circle cx="-504" r="9.5" class="b"/><text x="-516" class="e">BraA06g016900 YUCCA11</text></g>
<g id="n84" transform="rotate(386.87)"><circle cx="-504" r="9.5" class="l"/><text x="-516" class="e">Rsa10040269 YUCCA11</text></g>
<g id="n85" transform="rotate(390.45)"><circle cx="-504" r="9.5" class="l"/><text x="-516" class="e">Rsa10038966 YUCCA11</text></g>
<g id="n86" transform="rotate(394.03)"><circle cx="-504" r="9.5" class="r"/><text x="-516" class="e">IiYUCCA11</text></g>
<g id="n87" transform="rotate(397.6)"><circle cx="-504" r="9.5" class="g"/><text x="-516" class="e">AtYUCCA11</text></g>
<g id="n88" transform="rotate(401.18)"><circle cx="-504" r="9.5" class="g"/><text x="-516" class="e">AtYUCCA10</text></g>
<g id="n89" transform="rotate(404.76)"><circle cx="-504" r="9.5" class="l"/><text x="-516" class="e">Rsa10027643 YUCCA10</text></g>
<g id="n90" transform="rotate(408.34)"><circle cx="-504" r="9.5" class="r"/><text x="-516" class="e">IiYUCCA10</text></g>
<g id="n91" transform="rotate(411.91)"><circle cx="-504" r="9.5" class="b"/><text x="-516" class="e">BraA06g004210 YUCCA10</text></g>
<g id="n92" transform="rotate(415.49)"><circle cx="-504" r="9.5" class="b"/><text x="-516" class="e">BraA06g004190 YUCCA10</text></g>
<g id="n93" transform="rotate(419.07)"><circle cx="-504" r="9.5" class="c"/><text x="-516" class="e">Bol016735 YUCCA10</text></g>
<g id="n94" transform="rotate(422.64)"><circle cx="-504" r="9.5" class="l"/><text x="-516" class="e">Rsa10031411 YUCCA10</text></g>
<g id="n95" transform="rotate(426.22)"><circle cx="-504" r="9.5" class="l"/><text x="-516" class="e">Rsa10031410 YUCCA10</text></g>
<g id="n96" transform="rotate(429.8)"><circle cx="-504" r="9.5" class="l"/><text x="-516" class="e">Rsa10010720 YUCCA10</text></g>
</g>
</g>
<g id="clade-labels" class="num">
<text x="2113" y="508">I</text>
<text x="1554" y="2235">II</text>
<text x="231" y="1997">III</text>
<text x="112" y="508">IV</text>
</g>
</svg>
